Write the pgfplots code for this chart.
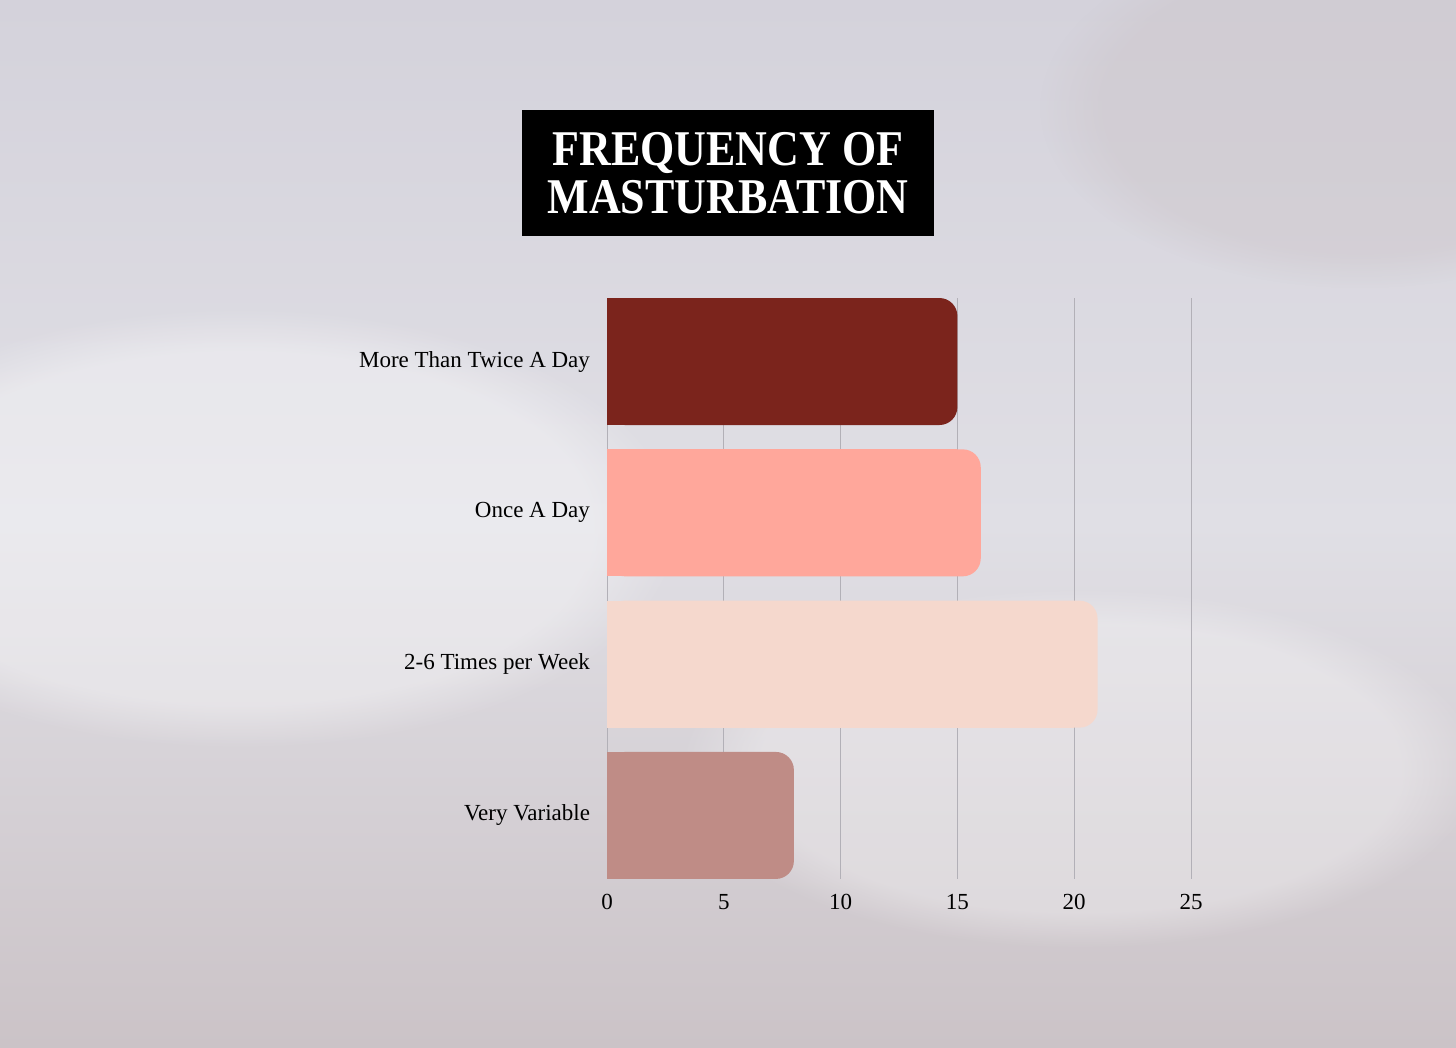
\documentclass[border=0pt]{standalone}
\usepackage{pgfplots}
\pgfplotsset{compat=1.18}
\usetikzlibrary{fadings}
\usepackage{fontspec}
\setmainfont{Liberation Serif}
\newfontfamily\titlefont{Liberation Serif}[FakeStretch=0.88]
\definecolor{barA}{RGB}{123,36,28}
\definecolor{barB}{RGB}{255,167,155}
\definecolor{barC}{RGB}{245,216,205}
\definecolor{barD}{RGB}{191,140,134}
\definecolor{bgtop}{RGB}{212,210,219}
\definecolor{bgmid}{RGB}{224,223,229}
\definecolor{bgbot}{RGB}{203,195,199}
\definecolor{gridc}{RGB}{178,176,183}
\begin{document}
\begin{tikzpicture}
\begin{scope}
\clip (0,0) rectangle (728pt,524pt);
\fill[top color=bgtop, bottom color=bgbot, middle color=bgmid] (0,0) rectangle (728pt,524pt);
\fill[white, opacity=0.35, path fading=circle with fuzzy edge 20 percent] (120pt,260pt) ellipse (220pt and 110pt);
\fill[white, opacity=0.3, path fading=circle with fuzzy edge 20 percent] (540pt,140pt) ellipse (200pt and 90pt);
\fill[bgbot, opacity=0.4, path fading=circle with fuzzy edge 20 percent] (680pt,470pt) ellipse (160pt and 90pt);
\end{scope}
\node[fill=black, minimum width=206pt, minimum height=63pt, inner sep=0pt, text=white, align=center,
      font=\titlefont\bfseries\fontsize{25}{24}\selectfont] at (364pt,437.5pt)
      {FREQUENCY OF\\MASTURBATION};
\begin{axis}[
  at={(303.5pt,84.5pt)}, anchor=south west,
  scale only axis, width=292pt, height=290.5pt,
  xmin=0, xmax=25, ymin=0.58, ymax=4.42,
  axis line style={draw=none},
  xtick={0,5,10,15,20,25},
  ytick={1,2,3,4},
  yticklabels={Very Variable, 2-6 Times per Week, Once A Day, More Than Twice A Day},
  major tick length=0pt,
  xmajorgrids=true,
  major grid style={gridc, line width=0.5pt},
  /pgf/number format/assume math mode=true,
  tick label style={font=\fontsize{11.5}{14}\selectfont, text=black},
  xticklabel style={yshift=-4pt},
  yticklabel style={xshift=-5pt},
  clip=false,
]
\addplot[xbar, bar width=63.5pt, bar shift=0pt, fill=barA, draw=none, rounded corners=9pt] coordinates {(15,4)};
\addplot[xbar, bar width=63.5pt, bar shift=0pt, fill=barA, draw=none] coordinates {(14,4)};
\addplot[xbar, bar width=63.5pt, bar shift=0pt, fill=barB, draw=none, rounded corners=9pt] coordinates {(16,3)};
\addplot[xbar, bar width=63.5pt, bar shift=0pt, fill=barB, draw=none] coordinates {(15,3)};
\addplot[xbar, bar width=63.5pt, bar shift=0pt, fill=barC, draw=none, rounded corners=9pt] coordinates {(21,2)};
\addplot[xbar, bar width=63.5pt, bar shift=0pt, fill=barC, draw=none] coordinates {(20,2)};
\addplot[xbar, bar width=63.5pt, bar shift=0pt, fill=barD, draw=none, rounded corners=9pt] coordinates {(8,1)};
\addplot[xbar, bar width=63.5pt, bar shift=0pt, fill=barD, draw=none] coordinates {(7,1)};
\end{axis}
\end{tikzpicture}
\end{document}
